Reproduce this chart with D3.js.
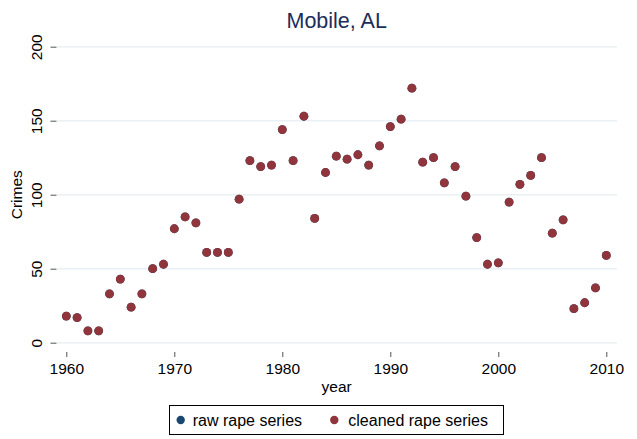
<!DOCTYPE html>
<html>
<head>
<meta charset="utf-8">
<script src="https://cdn.jsdelivr.net/npm/d3@7"></script>
<style>
  html, body { margin: 0; padding: 0; background: #ffffff; }
  svg { display: block; font-family: "Liberation Sans", Arial, Helvetica, sans-serif; }
</style>
</head>
<body>
<svg id="chart" width="637" height="439"></svg>
<script>
const years = d3.range(1960, 2011);
const rawRape = [18, 17, 8, 8, 33, 43, 24, 33, 50, 53,
                 77, 85, 81, 61, 61, 61, 97, 123, 119, 120,
                 144, 123, 153, 84, 115, 126, 124, 127, 120, 133,
                 146, 151, 172, 122, 125, 108, 119, 99, 71, 53,
                 54, 95, 107, 113, 125, 74, 83, 23, 27, 37, 59];
const cleanedRape = [18, 17, 8, 8, 33, 43, 24, 33, 50, 53,
                     77, 85, 81, 61, 61, 61, 97, 123, 119, 120,
                     144, 123, 153, 84, 115, 126, 124, 127, 120, 133,
                     146, 151, 172, 122, 125, 108, 119, 99, 71, 53,
                     54, 95, 107, 113, 125, 74, 83, 23, 27, 37, 59];
const xTicks = [1960, 1970, 1980, 1990, 2000, 2010];
const yTicks = [0, 50, 100, 150, 200];
const seriesNames = ["raw rape series", "cleaned rape series"];
const seriesColors = ["#1a476f", "#90353b"];

const svg = d3.select("#chart");
const x = d3.scaleLinear().domain([1960, 2010]).range([66.3, 606.3]);
const y = d3.scaleLinear().domain([0, 200]).range([342.7, 46.7]);
const plotLeft = 57, plotRight = 617;

// gridlines
svg.append("g").selectAll("line").data(yTicks).join("line")
  .attr("x1", plotLeft).attr("x2", plotRight)
  .attr("y1", d => y(d)).attr("y2", d => y(d))
  .attr("stroke", "#eaf0f3").attr("stroke-width", 1.5);

// y axis
const yAxis = d3.axisLeft(y).tickValues(yTicks).tickSize(6).tickPadding(0).tickFormat(d3.format("d"));
const gy = svg.append("g").attr("transform", "translate(56.5,0)").call(yAxis);
gy.select(".domain").remove();
gy.selectAll(".tick line").attr("stroke", "#555").attr("stroke-width", 1);
gy.selectAll(".tick text")
  .attr("transform", "rotate(-90)")
  .attr("x", 0).attr("y", -14.5).attr("dy", 0)
  .attr("text-anchor", "middle")
  .attr("font-size", 15.5).attr("fill", "#000");

// x axis
const xAxis = d3.axisBottom(x).tickValues(xTicks).tickSize(5).tickPadding(0).tickFormat(d3.format("d"));
const gx = svg.append("g").attr("transform", "translate(0,352)").call(xAxis);
gx.select(".domain").remove();
gx.selectAll(".tick line").attr("stroke", "#555").attr("stroke-width", 1);
gx.selectAll(".tick text")
  .attr("y", 22).attr("dy", 0)
  .attr("font-size", 15.5).attr("fill", "#000");

// axis titles
svg.append("text").attr("x", 336.7).attr("y", 391.5).attr("text-anchor", "middle")
  .attr("font-size", 15.5).attr("fill", "#000").text("year");
svg.append("text").attr("transform", "translate(22,194.7) rotate(-90)").attr("text-anchor", "middle")
  .attr("font-size", 15.5).attr("fill", "#000").text("Crimes");

// title
svg.append("text").attr("x", 336.7).attr("y", 28.3).attr("text-anchor", "middle")
  .attr("font-size", 21.5).attr("fill", "#1c2d5a").text("Mobile, AL");

// points
const raw = years.map((yr, i) => ({yr, v: rawRape[i]}));
const cleaned = years.map((yr, i) => ({yr, v: cleanedRape[i]}));
svg.append("g").selectAll("circle").data(raw).join("circle")
  .attr("cx", d => x(d.yr)).attr("cy", d => y(d.v)).attr("r", 4.4)
  .attr("fill", seriesColors[0]);
svg.append("g").selectAll("circle").data(cleaned).join("circle")
  .attr("cx", d => x(d.yr)).attr("cy", d => y(d.v)).attr("r", 4.4)
  .attr("fill", seriesColors[1]);

// legend
const lg = svg.append("g");
lg.append("rect").attr("x", 169.5).attr("y", 405.5).attr("width", 334).attr("height", 29)
  .attr("fill", "#fff").attr("stroke", "#000").attr("stroke-width", 1);
const legendItems = [
  {name: seriesNames[0], color: seriesColors[0], mx: 180.7, tx: 192.7},
  {name: seriesNames[1], color: seriesColors[1], mx: 334.3, tx: 348.3}
];
legendItems.forEach(it => {
  lg.append("circle").attr("cx", it.mx).attr("cy", 420).attr("r", 4.2).attr("fill", it.color);
  lg.append("text").attr("x", it.tx).attr("y", 425.5).attr("font-size", 16).attr("fill", "#000").text(it.name);
});
</script>
</body>
</html>
